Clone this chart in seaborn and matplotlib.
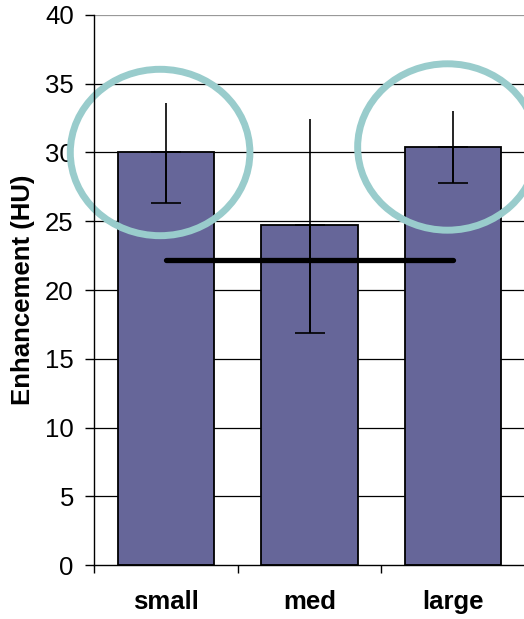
import numpy as np
import pandas as pd
import seaborn as sns
import matplotlib.pyplot as plt
from matplotlib.patches import Ellipse

sizes = ["small", "med", "large"]
means = [30.0, 24.7, 30.4]
err_low = [26.3, 16.9, 27.75]
err_high = [33.6, 32.4, 33.0]
ref_level = 22.2
circled = ["small", "large"]

df = pd.DataFrame({"size": sizes, "enh": means})

sns.set_theme(style="white")
plt.rcParams["font.family"] = ["Liberation Sans", "DejaVu Sans"]
plt.rcParams["text.color"] = "black"
plt.rcParams["axes.labelcolor"] = "black"
plt.rcParams["xtick.color"] = "black"
plt.rcParams["ytick.color"] = "black"

fig = plt.figure(figsize=(5.24, 6.19), dpi=100)
ax = fig.add_axes([0.1794, 0.0872, 0.8226, 0.8886])

sns.barplot(data=df, x="size", y="enh", color="#666699", saturation=1,
            edgecolor="black", linewidth=1.3, width=0.67, ax=ax, zorder=2)

# error bars: full range, cap only on the low end
xs = np.arange(len(sizes))
ax.vlines(xs, err_low, err_high, color="black", linewidth=1.2, zorder=3)
lo = np.array(means) - np.array(err_low)
ax.errorbar(xs, means, yerr=[lo, np.zeros(len(xs))], fmt="none",
            ecolor="black", elinewidth=1.2, capsize=11, capthick=1.2, zorder=3)

# reference line from small to large
ax.plot([0, 2], [ref_level, ref_level], color="black", linewidth=3.8,
        solid_capstyle="round", zorder=4)

# circles around small and large
for s in circled:
    i = sizes.index(s)
    e = Ellipse((i - 0.04, means[i]), width=1.25, height=12.1, fill=False,
                edgecolor="#99CCCC", linewidth=5, clip_on=False, zorder=5)
    ax.add_patch(e)

ax.set_xlim(-0.5, 2.5)
ax.set_ylim(0, 40)
ax.set_yticks(range(0, 41, 5))
ax.yaxis.grid(True, color="black", linewidth=0.9)
ax.set_axisbelow(True)
grid = ax.get_ygridlines()
grid[-1].set_color("#999999")
grid[0].set_visible(False)

for sp in ["top", "right"]:
    ax.spines[sp].set_visible(False)
ax.spines["left"].set_color("black")
ax.spines["bottom"].set_color("black")
ax.spines["left"].set_linewidth(1.0)
ax.spines["bottom"].set_linewidth(1.0)
ax.spines["left"].set_zorder(6)

ax.tick_params(axis="y", left=True, length=6.5, width=1, direction="out",
               pad=8, labelsize=18.5)
ax.set_xticks([-0.5, 0.5, 1.5, 2.5], minor=True)
ax.tick_params(axis="x", which="minor", bottom=True, length=6, width=1, direction="out")
ax.tick_params(axis="x", which="major", length=0, pad=18, labelsize=18.5)
for lab in ax.get_xticklabels():
    lab.set_fontweight("bold")

ax.set_xlabel("")
ax.set_ylabel("Enhancement (HU)", fontsize=18.5, fontweight="bold", labelpad=7)

fig.savefig("out.png", dpi=100)
